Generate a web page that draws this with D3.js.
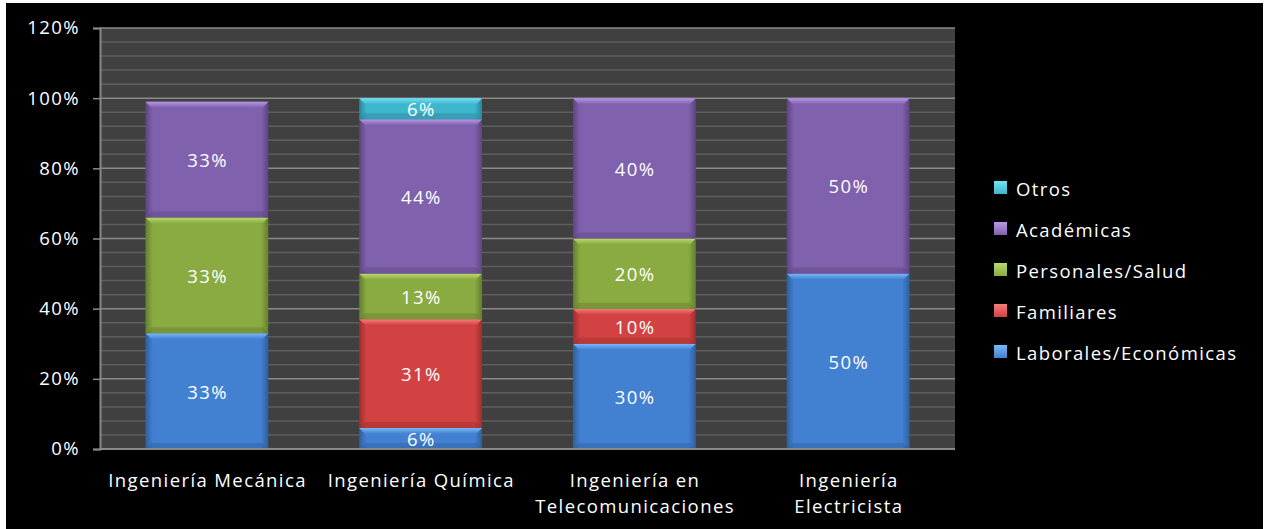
<!DOCTYPE html>
<html>
<head>
<meta charset="utf-8">
<script src="https://cdn.jsdelivr.net/npm/d3@7/dist/d3.min.js"></script>
<style>
  html, body { margin: 0; padding: 0; background: #ffffff; }
  svg { display: block; }
  text { font-family: "Open Sans", "Noto Sans", sans-serif; fill: #ffffff; letter-spacing: 1.4px; }
</style>
</head>
<body>
<svg id="chart" width="1267" height="529"></svg>
<script>
// Motivos de deserción por carrera (porcentaje de estudiantes)
const categories = [
  ["Ingeniería Mecánica"],
  ["Ingeniería Química"],
  ["Ingeniería en", "Telecomunicaciones"],
  ["Ingeniería", "Electricista"]
];
const seriesNames = ["Laborales/Económicas", "Familiares", "Personales/Salud", "Académicas", "Otros"];
const laborales  = [33, 6, 30, 50];
const familiares = [0, 31, 10, 0];
const personales = [33, 13, 20, 0];
const academicas = [33, 44, 40, 50];
const otros      = [0, 6, 0, 0];
const yTicks = [0, 20, 40, 60, 80, 100, 120];

const seriesValues = [laborales, familiares, personales, academicas, otros];
const seriesColors = [
  { base: "#4280d2", light: "#7ab8f6", dark: "#2e5f9e" },
  { base: "#d24242", light: "#f67c7c", dark: "#9e2e2e" },
  { base: "#8aab42", light: "#b8da6c", dark: "#647e2c" },
  { base: "#8061ae", light: "#b898e6", dark: "#5d4482" },
  { base: "#3eb6ce", light: "#74e2f4", dark: "#2a8596" }
];

const FONT = 18.5;
const LS = 1.4;

const svg = d3.select("#chart");
// black chart frame
svg.append("rect").attr("x", 6).attr("y", 3).attr("width", 1257).attr("height", 526).attr("fill", "#000");

const plot = { left: 100, right: 955, top: 28, bottom: 449 };

const x = d3.scaleBand()
  .domain(d3.range(categories.length))
  .range([plot.left, plot.right])
  .paddingInner(0.425)
  .paddingOuter(0.2125);

const y = d3.scaleLinear().domain([0, 120]).range([plot.bottom, plot.top]);

const defs = svg.append("defs");
seriesColors.forEach((c, i) => {
  const g = defs.append("linearGradient").attr("id", "hg" + i).attr("x1", 0).attr("x2", 1).attr("y1", 0).attr("y2", 0);
  g.append("stop").attr("offset", 0).attr("stop-color", c.dark);
  g.append("stop").attr("offset", 0.06).attr("stop-color", c.base);
  g.append("stop").attr("offset", 0.94).attr("stop-color", c.base);
  g.append("stop").attr("offset", 1).attr("stop-color", c.dark);
  const v = defs.append("linearGradient").attr("id", "vg" + i).attr("x1", 0).attr("x2", 0).attr("y1", 0).attr("y2", 1);
  v.append("stop").attr("offset", 0).attr("stop-color", c.light);
  v.append("stop").attr("offset", 1).attr("stop-color", c.base);
});

// plot background
svg.append("rect")
  .attr("x", plot.left).attr("y", plot.top)
  .attr("width", plot.right - plot.left).attr("height", plot.bottom - plot.top)
  .attr("fill", "#404040");

// minor gridlines every 4%
const minor = d3.range(4, 120, 4).filter(v => v % 20 !== 0);
svg.append("g").selectAll("line").data(minor).join("line")
  .attr("x1", plot.left).attr("x2", plot.right)
  .attr("y1", d => y(d)).attr("y2", d => y(d))
  .attr("stroke", "#5e5e5e").attr("stroke-width", 1.5);

// major gridlines
svg.append("g").selectAll("line").data(yTicks.filter(v => v > 0)).join("line")
  .attr("x1", plot.left).attr("x2", plot.right)
  .attr("y1", d => y(d)).attr("y2", d => y(d))
  .attr("stroke", "#8a8a8a").attr("stroke-width", 1.5);

// stacked bars
const stackData = categories.map((c, i) => {
  const o = { i };
  seriesNames.forEach((s, k) => { o[s] = seriesValues[k][i]; });
  return o;
});
const stacked = d3.stack().keys(seriesNames)(stackData);

const bars = svg.append("g");
stacked.forEach((layer, k) => {
  layer.forEach((seg, i) => {
    const v = seg[1] - seg[0];
    if (v <= 0) return;
    const x0 = x(i), w = x.bandwidth();
    const yTop = y(seg[1]), yBot = y(seg[0]);
    const h = yBot - yTop;
    const g = bars.append("g");
    g.append("rect").attr("x", x0).attr("y", yTop).attr("width", w).attr("height", h)
      .attr("fill", `url(#hg${k})`);
    const bev = Math.min(6, h / 3);
    // top bevel highlight
    g.append("path")
      .attr("d", `M${x0},${yTop} L${x0 + w},${yTop} L${x0 + w - bev},${yTop + bev} L${x0 + bev},${yTop + bev} Z`)
      .attr("fill", `url(#vg${k})`);
    // bottom bevel shade
    g.append("path")
      .attr("d", `M${x0},${yBot} L${x0 + w},${yBot} L${x0 + w - bev},${yBot - bev} L${x0 + bev},${yBot - bev} Z`)
      .attr("fill", seriesColors[k].dark).attr("opacity", 0.45);
    // value label
    g.append("text")
      .attr("x", x0 + w / 2 + LS / 2).attr("y", (yTop + yBot) / 2)
      .attr("text-anchor", "middle").attr("dominant-baseline", "central")
      .attr("font-size", FONT)
      .text(v + "%");
  });
});

// y axis
const yAxis = svg.append("g").attr("transform", `translate(${plot.left},0)`)
  .call(d3.axisLeft(y).tickValues(yTicks).tickFormat(d => d + "%").tickSize(7).tickPadding(13));
yAxis.select(".domain").attr("stroke", "#8a8a8a").attr("stroke-width", 2);
yAxis.selectAll(".tick line").attr("stroke", "#8a8a8a").attr("stroke-width", 1.5);
yAxis.selectAll(".tick text").attr("fill", "#fff").attr("font-size", FONT)
  .style("font-family", '"Open Sans", "Noto Sans", sans-serif');

// x axis baseline
svg.append("line").attr("x1", plot.left).attr("x2", plot.right)
  .attr("y1", plot.bottom).attr("y2", plot.bottom)
  .attr("stroke", "#8a8a8a").attr("stroke-width", 2);

// category labels
const xl = svg.append("g");
categories.forEach((lines, i) => {
  const cx = x(i) + x.bandwidth() / 2 + LS / 2;
  const t = xl.append("text")
    .attr("text-anchor", "middle")
    .attr("font-size", FONT)
    .attr("x", cx)
    .attr("y", 487);
  lines.forEach((ln, j) => {
    t.append("tspan").attr("x", cx).attr("dy", j === 0 ? 0 : 26).text(ln);
  });
});

// legend (top item is the last series)
const legend = svg.append("g");
const legendItems = seriesNames.map((n, k) => ({ n, k })).reverse();
legendItems.forEach((d, r) => {
  const cy = 188 + r * 41;
  legend.append("rect").attr("x", 994).attr("y", cy - 7).attr("width", 13).attr("height", 13)
    .attr("fill", `url(#vg${d.k})`);
  legend.append("text").attr("x", 1016).attr("y", cy).attr("dominant-baseline", "central")
    .attr("font-size", FONT).text(d.n);
});
</script>
</body>
</html>
